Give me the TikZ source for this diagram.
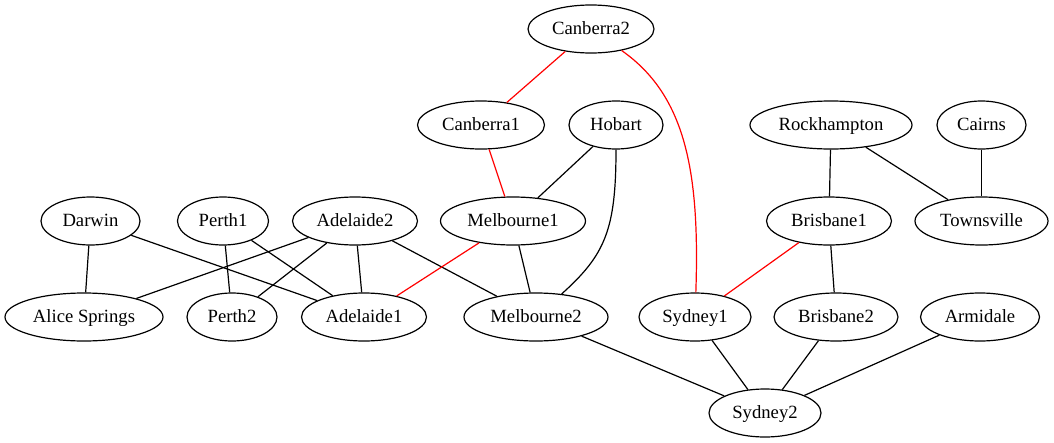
\documentclass[tikz,border=0pt]{standalone}
\usepackage{fontspec}
\setmainfont{Liberation Serif}
\usetikzlibrary{shapes.geometric}
\begin{document}
\begin{tikzpicture}[x=0.75pt,y=-0.75pt,
  city/.style={ellipse,draw,line width=0.9pt,inner sep=0pt,minimum height=36pt,text height=9.5pt,text depth=1.5pt,font=\fontsize{14pt}{16pt}\selectfont},
  edge/.style={line width=0.9pt},
  redge/.style={line width=0.9pt,red}]
\useasboundingbox (0,0) rectangle (1054,443);
% row 1
\node[city,minimum width=126*0.75pt] (c2) at (591,29) {Canberra2};
% row 2
\node[city,minimum width=127*0.75pt] (c1) at (481,125) {Canberra1};
\node[city,minimum width=94*0.75pt] (hob) at (616,125) {Hobart};
\node[city,minimum width=162*0.75pt] (rock) at (831,125) {Rockhampton};
\node[city,minimum width=89*0.75pt] (cairns) at (981.5,125) {Cairns};
% row 3
\node[city,minimum width=99*0.75pt] (darwin) at (90.5,221) {Darwin};
\node[city,minimum width=91*0.75pt] (p1) at (223,221) {Perth1};
\node[city,minimum width=125*0.75pt] (a2) at (355,221) {Adelaide2};
\node[city,minimum width=145*0.75pt] (m1) at (513,221) {Melbourne1};
\node[city,minimum width=125*0.75pt] (b1) at (829,221) {Brisbane1};
\node[city,minimum width=133*0.75pt] (town) at (981.5,221) {Townsville};
% row 4
\node[city,minimum width=158*0.75pt] (alice) at (84,317) {Alice Springs};
\node[city,minimum width=90*0.75pt] (p2) at (232,317) {Perth2};
\node[city,minimum width=125*0.75pt] (a1) at (364,317) {Adelaide1};
\node[city,minimum width=144*0.75pt] (m2) at (536,317) {Melbourne2};
\node[city,minimum width=112*0.75pt] (s1) at (695,317) {Sydney1};
\node[city,minimum width=124*0.75pt] (b2) at (836,317) {Brisbane2};
\node[city,minimum width=119*0.75pt] (arm) at (980,317) {Armidale};
% row 5
\node[city,minimum width=112*0.75pt] (s2) at (765,413) {Sydney2};
% edges
\draw[redge] (c2) -- (c1);
\draw[redge] (c2) .. controls (685,95) and (700,170) .. (s1);
\draw[redge] (c1) -- (m1);
\draw[edge] (hob) -- (m1);
\draw[edge] (hob) .. controls (616,230) and (605,255) .. (m2);
\draw[edge] (rock) -- (b1);
\draw[edge] (rock) -- (town);
\draw[edge] (cairns) -- (town);
\draw[edge] (darwin) -- (alice);
\draw[edge] (darwin) -- (a1);
\draw[edge] (p1) -- (p2);
\draw[edge] (p1) -- (a1);
\draw[edge] (a2) -- (alice);
\draw[edge] (a2) -- (p2);
\draw[edge] (a2) -- (a1);
\draw[edge] (a2) -- (m2);
\draw[redge] (m1) -- (a1);
\draw[edge] (m1) -- (m2);
\draw[redge] (b1) -- (s1);
\draw[edge] (b1) -- (b2);
\draw[edge] (m2) -- (s2);
\draw[edge] (s1) -- (s2);
\draw[edge] (b2) -- (s2);
\draw[edge] (arm) -- (s2);
\end{tikzpicture}
\end{document}
